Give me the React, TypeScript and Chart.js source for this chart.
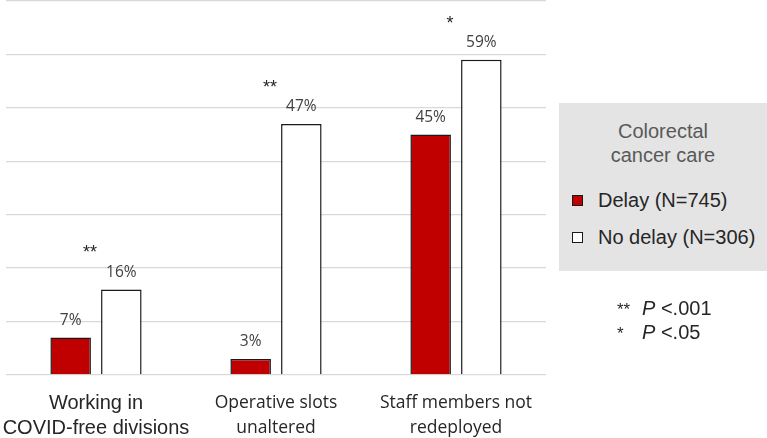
import React, { useEffect, useRef } from "react";
import { Chart, registerables } from "chart.js";

Chart.register(...registerables);

const categories: string[][] = [
  ["Working in", "COVID-free divisions"],
  ["Operative slots", "unaltered"],
  ["Staff members not", "redeployed"],
];
const delayValues = [7, 3, 45];
const noDelayValues = [16, 47, 59];
const significance = ["**", "**", "*"];
const seriesNames = ["Delay (N=745)", "No delay (N=306)"];
const legendTitle = ["Colorectal", "cancer care"];
const pNotes = [
  ["**", "P", "<.001"],
  ["*", "P", "<.05"],
];

const labelPlugin = {
  id: "valueLabels",
  afterDatasetsDraw(chart: any) {
    const ctx = chart.ctx;
    ctx.save();
    ctx.textAlign = "center";
    ctx.textBaseline = "middle";
    ctx.font = "15.5px 'Open Sans'";
    ctx.fillStyle = "#404040";
    chart.data.datasets.forEach((ds: any, di: number) => {
      const meta = chart.getDatasetMeta(di);
      meta.data.forEach((bar: any, i: number) => {
        ctx.fillText(ds.data[i] + "%", bar.x, bar.y - 17);
      });
    });
    const xs = chart.scales.x;
    const meta1 = chart.getDatasetMeta(1);
    ctx.font = "18px 'Liberation Sans'";
    ctx.fillStyle = "#262626";
    significance.forEach((s, i) => {
      const bar = meta1.data[i];
      ctx.fillText(s, xs.getPixelForValue(i) - 6, bar.y - 36);
    });
    ctx.restore();
  },
};

function App() {
  const ref = useRef<HTMLCanvasElement | null>(null);
  useEffect(() => {
    if (!ref.current) return;
    const chart = new Chart(ref.current, {
      type: "bar",
      data: {
        labels: categories,
        datasets: [
          {
            label: seriesNames[0],
            data: delayValues,
            backgroundColor: "#c00000",
            borderColor: "#1a1a1a",
            borderWidth: 1.5,
            categoryPercentage: 0.563,
            barPercentage: 0.8,
          },
          {
            label: seriesNames[1],
            data: noDelayValues,
            backgroundColor: "#ffffff",
            borderColor: "#1a1a1a",
            borderWidth: 1.5,
            categoryPercentage: 0.563,
            barPercentage: 0.8,
          },
        ],
      },
      options: {
        animation: false,
        responsive: false,
        maintainAspectRatio: false,
        layout: { padding: { left: 6, right: 221, top: 1, bottom: 0 } },
        plugins: {
          legend: { display: false },
          tooltip: { enabled: false },
        },
        scales: {
          x: {
            grid: { display: false, drawTicks: false },
            border: { display: false },
            ticks: {
              padding: 16,
              color: "#262626",
              maxRotation: 0,
              autoSkip: false,
              font: (c: any) =>
                c.index === 0
                  ? { family: "'Liberation Sans'", size: 20, lineHeight: "25px" }
                  : { family: "'Open Sans'", size: 17.5, lineHeight: "25px" },
            },
            afterFit: (s: any) => {
              s.height = 63;
              s.paddingLeft = 0;
              s.paddingRight = 0;
            },
          },
          y: {
            min: 0,
            max: 70,
            ticks: { display: false, stepSize: 10 },
            grid: { color: "#d9d9d9", lineWidth: 1.3, drawTicks: false },
            border: { display: false },
            afterFit: (s: any) => {
              s.width = 0;
            },
          },
        },
      },
      plugins: [labelPlugin],
    });
    return () => chart.destroy();
  }, []);

  const arial = "'Liberation Sans', Arial, sans-serif";
  return (
    <div style={{ position: "fixed", left: 0, top: 0, width: 767, height: 438, background: "#fff", overflow: "hidden" }}>
      <canvas ref={ref} width={767} height={438} style={{ position: "absolute", left: 0, top: 0 }} />
      <div
        style={{
          position: "absolute",
          left: 559,
          top: 103,
          width: 208,
          height: 168,
          background: "#e4e4e4",
          fontFamily: arial,
          fontSize: 20,
        }}
      >
        <div style={{ position: "absolute", top: 16, left: 0, width: 208, textAlign: "center", color: "#595959", lineHeight: "24px" }}>
          {legendTitle.map((t) => (
            <div key={t}>{t}</div>
          ))}
        </div>
        {seriesNames.map((n, i) => (
          <div key={n} style={{ position: "absolute", left: 13, top: i === 0 ? 85 : 122, height: 24, display: "flex", alignItems: "center", color: "#262626", whiteSpace: "nowrap" }}>
            <span
              style={{
                display: "inline-block",
                width: 9,
                height: 9,
                border: "1.5px solid #1a1a1a",
                background: i === 0 ? "#c00000" : "#ffffff",
                marginRight: 15,
              }}
            />
            <span>{n}</span>
          </div>
        ))}
      </div>
      {pNotes.map((p, i) => (
        <div
          key={i}
          style={{ position: "absolute", left: 617, top: i === 0 ? 296 : 320, lineHeight: "24px", fontFamily: arial, fontSize: 20, color: "#262626", whiteSpace: "nowrap" }}
        >
          <span style={{ display: "inline-block", width: 25, fontSize: 17 }}>{p[0]}</span>
          <i>{p[1]}</i> {p[2]}
        </div>
      ))}
    </div>
  );
}

export default App;
